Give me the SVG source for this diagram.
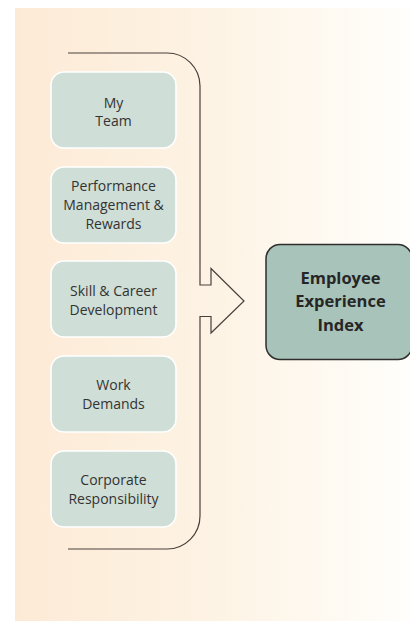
<svg xmlns="http://www.w3.org/2000/svg" width="410" height="621" viewBox="0 0 410 621">
  <defs>
    <linearGradient id="bg" x1="0" y1="0" x2="1" y2="0">
      <stop offset="0" stop-color="#FDEAD6"/>
      <stop offset="0.5" stop-color="#FDF3E4"/>
      <stop offset="1" stop-color="#FFFEFB"/>
    </linearGradient>
    <style>
      .box { fill: #CFDED6; stroke: #FFFFFF; stroke-width: 1.6; }
      .lbl { font-family: "Open Sans", "Liberation Sans", sans-serif; font-size: 14px; fill: #333333; text-anchor: middle; }
      .main { fill: #A8C3B9; stroke: #2E2E2E; stroke-width: 1.5; }
      .mlbl { font-family: "Open Sans", "Liberation Sans", sans-serif; font-size: 16.5px; font-weight: bold; fill: #262626; text-anchor: middle; }
      .conn { fill: none; stroke: #4A403B; stroke-width: 1.2; }
    </style>
  </defs>
  <rect x="15" y="8" width="395" height="613" fill="url(#bg)"/>

  <g id="connectors">
    <path class="conn" d="M68,53 H167 A33,33 0 0 1 200,86 V285 H211 V268.5 L244,301 L211,333 V316.5 H200 V516 A33,33 0 0 1 167,549 H68"/>
  </g>

  <g id="my-team">
    <rect class="box" x="51" y="72" width="125" height="76" rx="13"/>
    <text class="lbl" x="113.5" y="107.5">My</text>
    <text class="lbl" x="113.5" y="125.5">Team</text>
  </g>
  <g id="performance">
    <rect class="box" x="51" y="167" width="125" height="76" rx="13"/>
    <text class="lbl" x="113.5" y="190.5">Performance</text>
    <text class="lbl" x="113.5" y="209.5">Management &amp;</text>
    <text class="lbl" x="113.5" y="228.5">Rewards</text>
  </g>
  <g id="skill">
    <rect class="box" x="51" y="261" width="125" height="76" rx="13"/>
    <text class="lbl" x="113.5" y="295.5">Skill &amp; Career</text>
    <text class="lbl" x="113.5" y="314.5">Development</text>
  </g>
  <g id="work">
    <rect class="box" x="51" y="356" width="125" height="76" rx="13"/>
    <text class="lbl" x="113.5" y="390">Work</text>
    <text class="lbl" x="113.5" y="409">Demands</text>
  </g>
  <g id="corporate">
    <rect class="box" x="51" y="451" width="125" height="76" rx="13"/>
    <text class="lbl" x="113.5" y="485">Corporate</text>
    <text class="lbl" x="113.5" y="504">Responsibility</text>
  </g>
  <g id="employee-experience-index">
    <rect class="main" x="266" y="244.5" width="146" height="115" rx="14"/>
    <text class="mlbl" x="340.5" y="283.5">Employee</text>
    <text class="mlbl" x="340.5" y="307">Experience</text>
    <text class="mlbl" x="340.5" y="330.5">Index</text>
  </g>
</svg>
